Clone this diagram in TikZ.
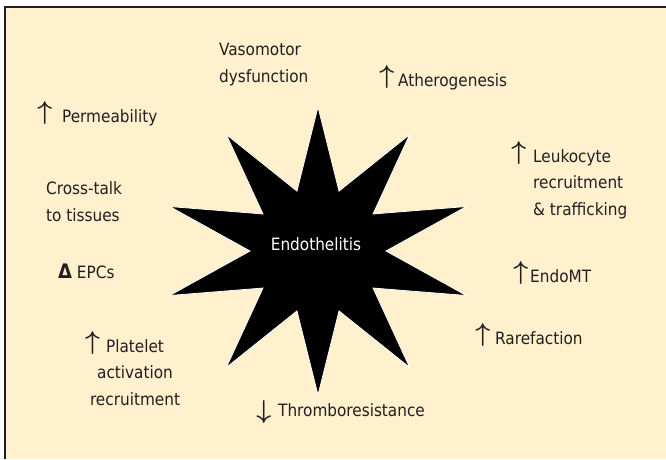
\documentclass[tikz,border=0pt]{standalone}
\usepackage{fontspec}
\usepackage{graphicx}
\usepackage{bm}
\setmainfont{DejaVu Sans Condensed}
\usetikzlibrary{positioning}
\definecolor{EndoCream}{HTML}{FFF0CE}
\definecolor{EndoInk}{HTML}{231F20}
\newcommand{\uparr}{\raisebox{3pt}{\scalebox{1.5}{$\bm{\uparrow}$}}}
\newcommand{\dnarr}{\raisebox{-2pt}{\scalebox{1.5}{$\bm{\downarrow}$}}}
\newcommand{\upmark}[1]{\leavevmode\llap{\uparr\hspace{#1}}}
\newcommand{\dnmark}[1]{\leavevmode\llap{\dnarr\hspace{#1}}}
\tikzset{
  effect/.style={anchor=base west,inner sep=0pt,align=left,text=EndoInk,
    font=\fontsize{17}{26.5}\selectfont},
  burst/.style={fill=black,draw=white,line width=0.8pt,line join=miter}
}

\begin{document}
\begin{tikzpicture}[x=1pt,y=-1pt]
\useasboundingbox (0,0) rectangle (666,459);
\fill[white] (0,0) rectangle (666,459);
\fill[EndoCream] (5,7) rectangle (666,459);
\draw[EndoInk,line width=2pt] (5,459) -- (5,7) -- (666,7);
% central burst
\draw[burst,shift={(318,251)}]
  (90:156 and 144) -- (108:68 and 63) -- (126:156 and 144) -- (144:68 and 63)
  -- (162:156 and 144) -- (180:68 and 63) -- (198:156 and 144) -- (216:68 and 63)
  -- (234:156 and 144) -- (252:68 and 63) -- (270:156 and 144) -- (288:68 and 63)
  -- (306:156 and 144) -- (324:68 and 63) -- (342:156 and 144) -- (0:68 and 63)
  -- (18:156 and 144) -- (36:68 and 63) -- (54:156 and 144) -- (72:68 and 63) -- cycle;
\node[effect,anchor=base,text=white] (endo) at (316,250) {Endothelitis};
% effects around the burst (base = last line)
\node[effect] (vaso) at (219,82) {Vasomotor\\dysfunction};
\node[effect] (perm) at (62,122) {\upmark{10pt}Permeability};
\node[effect] (athero) at (398,86) {\upmark{4pt}Atherogenesis};
\node[effect] (leuko) at (533,215) {\upmark{7pt}Leukocyte\\recruitment\\\& trafficking};
\node[effect] (cross) at (46,221) {Cross-talk\\to tissues};
\node[effect] (epcs) at (58,278) {{\fontsize{20}{20}\selectfont\bfseries Δ} EPCs};
\node[effect] (endomt) at (530,282) {\upmark{2pt}EndoMT};
\node[effect] (rare) at (495,344) {\upmark{5pt}Rarefaction};
\node[effect,anchor=base,align=center] (platelet) at (135,405) {\upmark{6pt}Platelet\\activation\\recruitment};
\node[effect] (thrombo) at (278,416) {\dnmark{7pt}Thromboresistance};
\end{tikzpicture}
\end{document}
